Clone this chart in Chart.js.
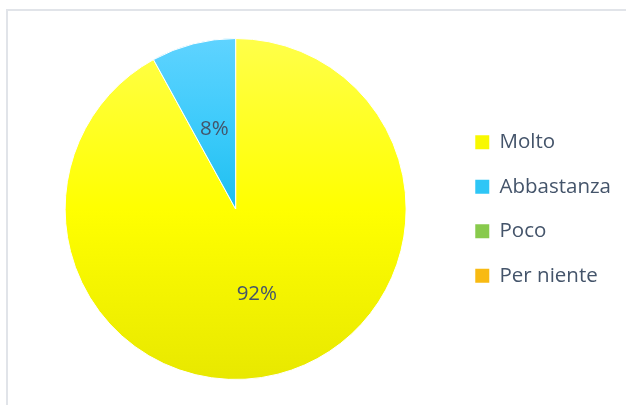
<!DOCTYPE html>
<html>
<head>
<meta charset="utf-8">
<script src="https://cdn.jsdelivr.net/npm/chart.js@4/dist/chart.umd.min.js"></script>
<style>
  html, body { margin: 0; padding: 0; background: #fff; }
  #wrap { position: relative; width: 626px; height: 405px; overflow: hidden; }
  #frame { position: absolute; left: 6px; top: 9px; width: 700px; height: 500px;
           border: 2px solid #e1e4e9; box-sizing: border-box; }
  canvas { position: absolute; left: 0; top: 0; }
</style>
</head>
<body>
<div id="wrap">
  <div id="frame"></div>
  <canvas id="pie" width="626" height="405"></canvas>
</div>
<script>
const categories = ['Molto', 'Abbastanza', 'Poco', 'Per niente'];
const percents = [92, 8, 0, 0];
const pctLabels = ['92%', '8%', '', ''];

// top / middle / bottom gradient stops per slice, plus flat colour for the legend box
const sliceTop = ['#ffff4a', '#5fd3ff', '#9ad860', '#ffc832'];
const sliceMid = ['#ffff00', '#3ecbfb', '#8ccd50', '#fabd1c'];
const sliceBottom = ['#e8e800', '#1ebff0', '#79be3e', '#f2b000'];
const legendFill = ['#f8f800', '#2ec6f6', '#88ca4c', '#f8ba12'];

const textColor = '#44546a';
const fontFamily = "'Open Sans', 'Noto Sans', sans-serif";

function sliceGradient(ctx) {
  const chart = ctx.chart;
  const area = chart.chartArea;
  if (!area) return legendFill[ctx.dataIndex];
  const cy = (area.top + area.bottom) / 2;
  const r = Math.min(area.right - area.left, area.bottom - area.top) / 2;
  // the small wedge only reaches the centre, the big one covers the whole disc
  const bottom = ctx.dataIndex === 0 ? cy + r : cy;
  const g = chart.ctx.createLinearGradient(0, cy - r, 0, bottom);
  g.addColorStop(0, sliceTop[ctx.dataIndex]);
  g.addColorStop(0.5, sliceMid[ctx.dataIndex]);
  g.addColorStop(1, sliceBottom[ctx.dataIndex]);
  return g;
}

// percentage text in the middle of each wedge
const sliceLabels = {
  id: 'sliceLabels',
  afterDatasetsDraw(chart) {
    const ctx = chart.ctx;
    const meta = chart.getDatasetMeta(0);
    ctx.save();
    ctx.font = '20.5px ' + fontFamily;
    ctx.fillStyle = textColor;
    ctx.textAlign = 'center';
    ctx.textBaseline = 'middle';
    meta.data.forEach((arc, i) => {
      if (!percents[i]) return;
      const c = arc.getCenterPoint();
      ctx.fillText(pctLabels[i], c.x, c.y + 3);
    });
    ctx.restore();
  }
};

new Chart(document.getElementById('pie'), {
  type: 'pie',
  data: {
    labels: categories,
    datasets: [{
      data: percents,
      backgroundColor: sliceGradient,
      borderColor: '#ffffff',
      borderWidth: 1
    }]
  },
  options: {
    responsive: false,
    animation: false,
    events: [],
    layout: { padding: { left: 20, top: 38, bottom: 25, right: 5 } },
    plugins: {
      tooltip: { enabled: false },
      legend: {
        position: 'right',
        labels: {
          boxWidth: 14,
          boxHeight: 14,
          padding: 24,
          color: textColor,
          font: { family: fontFamily, size: 20.5 },
          generateLabels(chart) {
            return categories.map((c, i) => ({
              text: c,
              fillStyle: legendFill[i],
              strokeStyle: legendFill[i],
              lineWidth: 0,
              fontColor: textColor,
              hidden: false,
              index: i
            }));
          }
        }
      }
    }
  },
  plugins: [sliceLabels]
});
</script>
</body>
</html>
